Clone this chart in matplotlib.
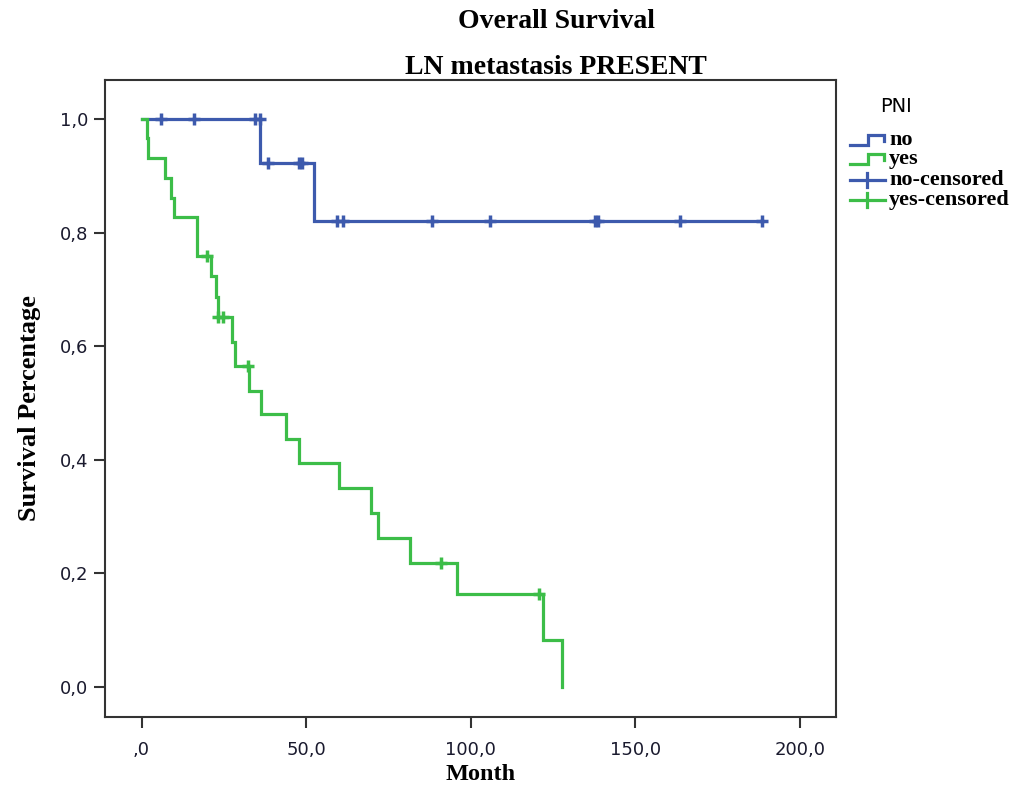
import numpy as np
import matplotlib
matplotlib.use("Agg")
import matplotlib.pyplot as plt
from matplotlib.lines import Line2D

# ---- data ----
no_times = [0.0, 36.1, 52.3, 188.5]
no_surv = [1.0, 0.923, 0.820, 0.820]
no_censor_t = [6.0, 16.0, 34.6, 35.9, 38.3, 47.9, 48.6, 59.5, 61.2, 88.2,
               105.7, 137.8, 138.6, 163.5, 188.5]

yes_times = [0.0, 1.6, 2.1, 7.1, 8.8, 9.8, 16.9, 21.0, 22.6, 23.1, 27.6, 28.3,
             32.6, 36.2, 44.0, 47.8, 60.1, 69.8, 71.8, 81.6, 95.9, 122.0, 127.8]
yes_surv = [1.0, 0.966, 0.931, 0.897, 0.862, 0.828, 0.759, 0.724, 0.686, 0.652,
            0.608, 0.565, 0.522, 0.480, 0.437, 0.394, 0.350, 0.306, 0.262,
            0.219, 0.164, 0.082, 0.0]
yes_censor_t = [19.9, 23.3, 24.8, 32.3, 90.9, 120.7]

x_ticks = [0, 50, 100, 150, 200]
x_ticklabels = [",0", "50,0", "100,0", "150,0", "200,0"]
y_ticks = [0.0, 0.2, 0.4, 0.6, 0.8, 1.0]
y_ticklabels = ["0,0", "0,2", "0,4", "0,6", "0,8", "1,0"]

legend_title = "PNI"
legend_labels = ["no", "yes", "no-censored", "yes-censored"]

blue = "#3d5aad"
green = "#3cbd48"


def step_value(times, surv, t):
    idx = np.searchsorted(np.asarray(times), t, side="right") - 1
    return np.asarray(surv)[idx]


W, H = 1021, 787
fig = plt.figure(figsize=(W / 100, H / 100), dpi=100)
ax = fig.add_axes([105 / W, 1 - 717 / H, (836 - 105) / W, (717 - 80) / H])

ax.step(no_times, no_surv, where="post", color=blue, lw=2.3, solid_joinstyle="miter")
ax.step(yes_times, yes_surv, where="post", color=green, lw=2.3, solid_joinstyle="miter")
ax.plot(no_censor_t, step_value(no_times, no_surv, no_censor_t), ls="none",
        marker="+", ms=8, mew=2.5, color=blue)
ax.plot(yes_censor_t, step_value(yes_times, yes_surv, yes_censor_t), ls="none",
        marker="+", ms=8, mew=2.5, color=green)

ax.set_xlim(-11.1, 210.9)
ax.set_ylim(-0.053, 1.069)
ax.set_xticks(x_ticks)
ax.set_xticklabels(x_ticklabels)
ax.set_yticks(y_ticks)
ax.set_yticklabels(y_ticklabels)
for lab in ax.get_xticklabels() + ax.get_yticklabels():
    lab.set_family("DejaVu Sans")
    lab.set_fontsize(13)
    lab.set_color("#1a1a2e")
ax.tick_params(direction="out", length=8, width=1.5, color="#333333", pad=4)
ax.tick_params(axis="x", pad=9)
for s in ax.spines.values():
    s.set_linewidth(1.5)
    s.set_color("#333333")

serif = "Liberation Serif"
ax.set_xlabel("Month", family=serif, weight="bold", fontsize=17.5)
ax.set_ylabel("Survival Percentage", family=serif, weight="bold", fontsize=19)
ax.xaxis.set_label_coords((481 - 105) / 731, (717 - 775) / 637)
ax.yaxis.set_label_coords((30 - 105) / 731, (717 - 408) / 637)
ax.xaxis.label.set_va("center")
ax.yaxis.label.set_va("center")

fig.text(556 / W, 1 - 22 / H, "Overall Survival", family=serif, weight="bold",
         fontsize=20, ha="center", va="center")
fig.text(556 / W, 1 - 68 / H, "LN metastasis PRESENT", family=serif, weight="bold",
         fontsize=20, ha="center", va="center")

# ---- legend (drawn in figure pixel positions) ----
def fx(px):
    return px / W


def fy(py):
    return 1 - py / H


fig.text(fx(880), fy(107), legend_title, family="DejaVu Sans", fontsize=14,
         ha="left", va="center")
entry_y = [140, 159, 180, 200]
colors = [blue, green, blue, green]
for i, (lab, yy, c) in enumerate(zip(legend_labels, entry_y, colors)):
    if i < 2:
        xs = [850, 868, 868, 884, 884]
        ys = [yy + 5, yy + 5, yy - 5, yy - 5, yy + 1]
        fig.add_artist(Line2D([fx(v) for v in xs], [fy(v) for v in ys], color=c,
                              lw=2.3, solid_joinstyle="miter",
                              transform=fig.transFigure))
    else:
        fig.add_artist(Line2D([fx(850), fx(885)], [fy(yy), fy(yy)], color=c, lw=2.3,
                              transform=fig.transFigure))
        fig.add_artist(Line2D([fx(867), fx(867)], [fy(yy - 7), fy(yy + 7)], color=c,
                              lw=2.3, transform=fig.transFigure))
    fig.text(fx(889), fy(yy), lab, family=serif, weight="bold", fontsize=16,
             ha="left", va="center")

fig.savefig("out.png", dpi=100, facecolor="white")
